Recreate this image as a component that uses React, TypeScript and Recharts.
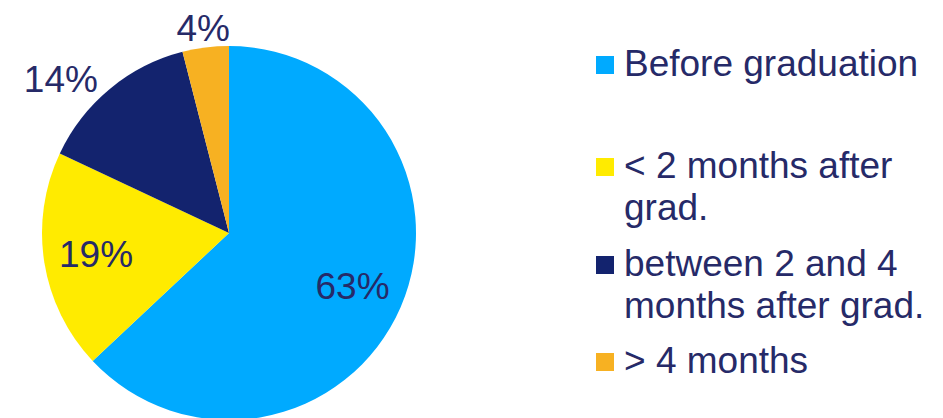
import { PieChart, Pie, Cell, Legend } from "recharts";

const categories = [
  "Before graduation",
  "< 2 months after grad.",
  "between 2 and 4 months after grad.",
  "> 4 months",
];
const shares = [63, 19, 14, 4];
const colors = ["#00AAFF", "#FFEB00", "#13236E", "#F7B122"];
// how the legend text wraps in the original
const legendLines = [
  ["Before graduation"],
  ["< 2 months after", "grad."],
  ["between 2 and 4", "months after grad."],
  ["> 4 months"],
];

const textColor = "#262A68";
const font = '"Liberation Sans", Arial, sans-serif';
const RAD = Math.PI / 180;

const data = categories.map((name, i) => ({ name, value: shares[i] }));

function renderLabel(props: any) {
  const { cx, cy, midAngle, outerRadius, value } = props;
  const outside = value < 15;
  const r = outside ? outerRadius * 1.1 : outerRadius * 0.72;
  const x = cx + r * Math.cos(-midAngle * RAD);
  const y = cy + r * Math.sin(-midAngle * RAD);
  const left = outside && x - cx < -0.3 * outerRadius;
  return (
    <text
      x={x}
      y={y + (left ? 5 : 0)}
      fill={textColor}
      fontSize={37}
      fontFamily={font}
      textAnchor={left ? "end" : "middle"}
      dominantBaseline="central"
    >
      {value}%
    </text>
  );
}

const itemTops = [43, 145, 243, 340];

function LegendBox() {
  return (
    <div style={{ position: "relative", width: 347, height: 418 }}>
      {legendLines.map((lines, i) => (
        <div key={i} style={{ position: "absolute", left: 0, top: itemTops[i] }}>
          <div
            style={{
              position: "absolute",
              left: 0,
              top: 13,
              width: 18,
              height: 18,
              background: colors[i],
            }}
          />
          <div
            style={{
              position: "absolute",
              left: 28,
              top: 0,
              whiteSpace: "nowrap",
              fontSize: 37,
              lineHeight: "42px",
              fontFamily: font,
              color: textColor,
            }}
          >
            {lines.map((l, j) => (
              <div key={j}>{l}</div>
            ))}
          </div>
        </div>
      ))}
    </div>
  );
}

export default function App() {
  return (
    <div style={{ position: "absolute", left: 0, top: 0, width: 943, height: 418, background: "#fff" }}>
      <PieChart width={943} height={418} margin={{ top: 0, right: 0, bottom: 0, left: 0 }}>
        <Pie
          data={data}
          dataKey="value"
          nameKey="name"
          cx={229}
          cy={233}
          outerRadius={187}
          startAngle={90}
          endAngle={-270}
          stroke="none"
          labelLine={false}
          label={renderLabel}
          isAnimationActive={false}
        >
          {data.map((_, i) => (
            <Cell key={i} fill={colors[i]} />
          ))}
        </Pie>
        <Legend
          content={() => <LegendBox />}
          wrapperStyle={{ position: "absolute", left: 596, top: 0, width: 347, height: 418 }}
        />
      </PieChart>
    </div>
  );
}
